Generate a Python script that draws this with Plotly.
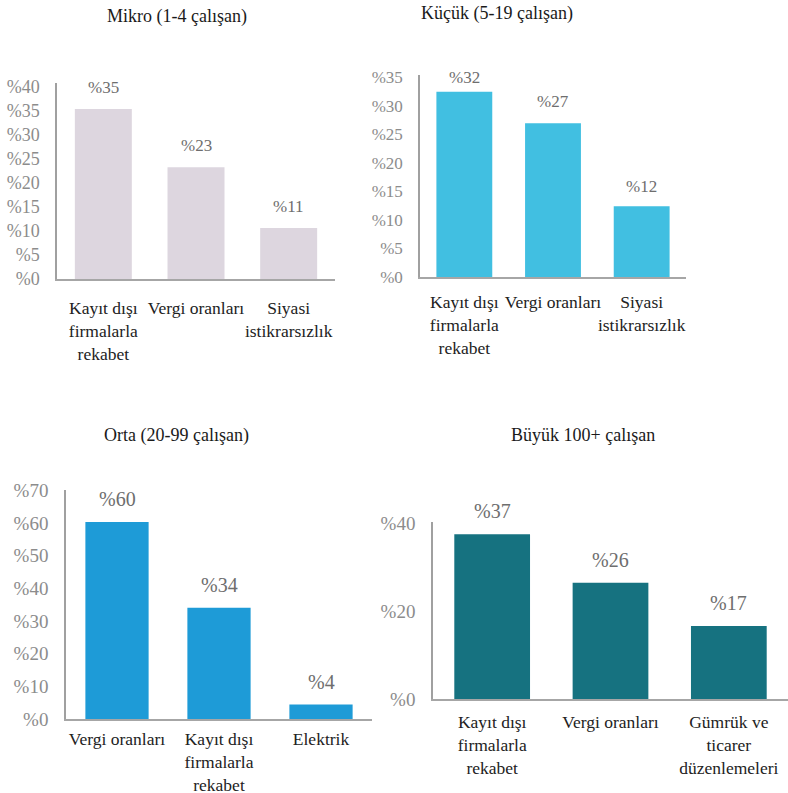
import plotly.graph_objects as go

W, H = 788, 793

titles = ["Mikro (1-4 çalışan)", "Küçük (5-19 çalışan)", "Orta (20-99 çalışan)", "Büyük 100+ çalışan"]

mikro_cats = ["Kayıt dışı<br>firmalarla<br>rekabet", "Vergi oranları", "Siyasi<br>istikrarsızlık"]
mikro_vals = [35.4, 23.3, 10.6]

kucuk_cats = ["Kayıt dışı<br>firmalarla<br>rekabet", "Vergi oranları", "Siyasi<br>istikrarsızlık"]
kucuk_vals = [32.4, 26.9, 12.4]

orta_cats = ["Vergi oranları", "Kayıt dışı<br>firmalarla<br>rekabet", "Elektrik"]
orta_vals = [60.3, 34.0, 4.4]

buyuk_cats = ["Kayıt dışı<br>firmalarla<br>rekabet", "Vergi oranları", "Gümrük ve<br>ticarer<br>düzenlemeleri"]
buyuk_vals = [37.4, 26.4, 16.6]

y_ticks = [list(range(0, 41, 5)), list(range(0, 36, 5)), list(range(0, 71, 10)), [0, 20, 40]]

cats = [mikro_cats, kucuk_cats, orta_cats, buyuk_cats]
vals = [mikro_vals, kucuk_vals, orta_vals, buyuk_vals]

# style / layout (pixels)
colors = ["#DDD6DF", "#41BFE1", "#1E9BD7", "#167280"]
x_px = [(57, 335), (420, 686), (66, 372), (433, 788)]
y_px = [(83, 279), (75, 277), (490, 719), (522, 699)]
y_top = [40.83, 35.35, 70.06, 40.2]
bargaps = [0.385, 0.37, 0.38, 0.36]
tick_size = [18, 17, 19, 19]
val_size = [17, 17, 20, 20]
val_shift = [[10, 10, 10], [3, 10, 8], [10, 10, 10], [10, 10, 10]]
x_ticklen = [12, 8, 3, 6]
title_pos = [(177, 16), (497, 13), (176, 435), (583, 435)]

SERIF = "Liberation Serif"
fig = go.Figure()
annotations = []
for i in range(4):
    xa = "x" if i == 0 else f"x{i+1}"
    ya = "y" if i == 0 else f"y{i+1}"
    fig.add_trace(go.Bar(x=cats[i], y=vals[i], marker_color=colors[i],
                         marker_line_width=0, xaxis=xa, yaxis=ya,
                         width=1 - bargaps[i],
                         showlegend=False, hoverinfo="skip"))
    xk = "xaxis" if i == 0 else f"xaxis{i+1}"
    yk = "yaxis" if i == 0 else f"yaxis{i+1}"
    fig.update_layout(**{
        xk: dict(domain=[x_px[i][0] / W, x_px[i][1] / W], anchor=ya,
                 showline=True, linecolor="#A6A6A6", linewidth=2,
                 showgrid=False, zeroline=False, automargin=False,
                 tickangle=0,
                 ticks="outside", ticklen=x_ticklen[i], tickcolor="rgba(0,0,0,0)",
                 tickfont=dict(family=SERIF, size=17.5, color="#222222"),
                 fixedrange=True),
        yk: dict(domain=[1 - y_px[i][1] / H, 1 - y_px[i][0] / H], anchor=xa,
                 range=[0, y_top[i]], tickmode="array", tickvals=y_ticks[i],
                 ticktext=[f"%{t}" for t in y_ticks[i]],
                 showline=True, linecolor="#A0A0A0", linewidth=1.5,
                 showgrid=False, zeroline=False, automargin=False,
                 ticks="outside", ticklen=12, tickcolor="rgba(0,0,0,0)",
                 tickfont=dict(family=SERIF, size=tick_size[i], color="#8C8C8C"),
                 fixedrange=True),
    })
    for j, (c, v) in enumerate(zip(cats[i], vals[i])):
        annotations.append(dict(x=c, y=v, xref=xa, yref=ya, text=f"%{round(v)}",
                                showarrow=False, yanchor="bottom", yshift=val_shift[i][j],
                                font=dict(family=SERIF, size=val_size[i], color="#6E6E6E")))
    annotations.append(dict(x=title_pos[i][0] / W, y=1 - title_pos[i][1] / H,
                            xref="paper", yref="paper", text=titles[i], showarrow=False,
                            xanchor="center", yanchor="middle",
                            font=dict(family=SERIF, size=18, color="#1A1A1A")))

fig.update_layout(width=W, height=H, margin=dict(l=0, r=0, t=0, b=0),
                  font=dict(family=SERIF),
                  paper_bgcolor="white", plot_bgcolor="white",
                  annotations=annotations)

fig.write_html("out.html")
